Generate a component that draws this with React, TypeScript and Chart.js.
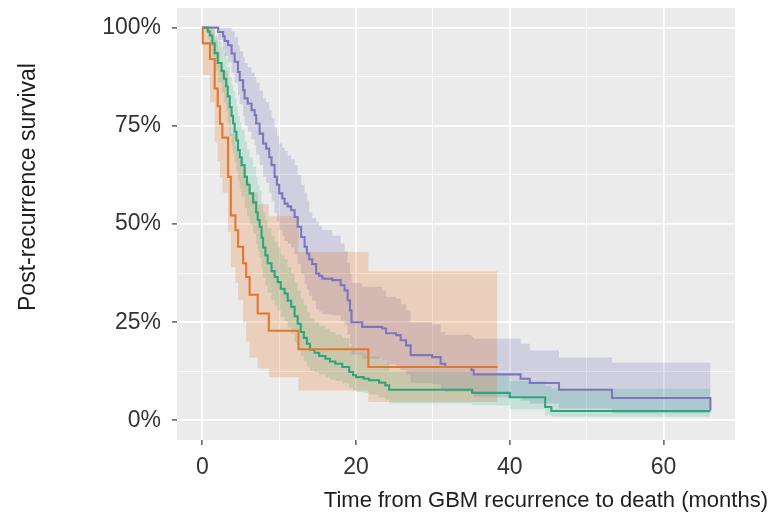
import React, { useEffect, useRef } from 'react';
import { Chart, registerables } from 'chart.js';

Chart.register(...registerables);

// ---- tick values ----
const xMajorTicks = [0, 20, 40, 60];
const xMinorTicks = [10, 30, 50];
const yMajorTicks = [0, 25, 50, 75, 100];
const yMinorTicks = [12.5, 37.5, 62.5, 87.5];

// ---- orange group ----
const orangeTime = [0, 0.05, 1.0, 1.6, 2.0, 2.3, 2.6, 3.35, 3.7, 4.3, 4.65, 5.3, 5.7, 6.15, 7.2, 8.65, 12.5, 21.6, 38.4];
const orangeSurv = [100, 96, 92, 84.5, 80, 75.5, 72, 62, 52.2, 48.4, 44.2, 40, 36.5, 32, 27.2, 22.8, 18.1, 13.6, 13.6];
const orangeUpper = [100, 100, 100, 97, 94, 91, 89, 81, 73, 70, 67, 64, 61, 58, 55, 52, 42.9, 38, 38];
const orangeLower = [100, 88, 81, 71, 66, 62, 58, 48, 39, 35, 30.6, 25, 20, 16, 13.2, 11, 7.6, 4.7, 4.7];

// ---- green group ----
const greenTime = [0, 0.7, 0.97, 1.3, 1.6, 2.0, 2.5, 2.8, 3.1, 3.3, 3.56, 3.8, 4.0, 4.2, 4.43, 4.64, 4.86, 5.1, 5.5, 5.8, 6.15, 6.6, 7.0, 7.2, 7.45, 7.7, 7.9, 8.2, 8.5, 9.0, 9.4, 9.8, 10.2, 10.7, 11.1, 11.55, 12.0, 12.4, 12.8, 13.2, 13.6, 14.0, 14.6, 15.2, 16.0, 16.6, 17.3, 18.2, 19.1, 19.6, 20.0, 21.0, 21.7, 23.0, 23.8, 24.3, 35.1, 40.0, 44.6, 45.4, 66.1];
const greenSurv = [100, 99, 98, 96, 93.5, 91, 89, 87, 85, 82.5, 79.8, 77.5, 75.6, 73.5, 71.3, 68.8, 67, 65, 62, 60, 57.8, 55.5, 53, 51, 49.3, 46.5, 44, 42, 40, 38, 36.5, 35.2, 33.5, 32.3, 30.5, 28.9, 26.5, 24.6, 22.5, 21, 19.5, 18, 17.2, 16.4, 15.7, 15, 14.4, 13.6, 12.3, 11.5, 11, 10.6, 10.2, 9.6, 8.9, 7.8, 7.0, 5.9, 3.4, 2.4, 2.4];
const greenUpper = [100, 100, 100, 99.5, 98, 96.5, 95, 93.5, 92, 90, 87.5, 85.5, 84, 82, 80, 77.5, 76, 74, 71, 69, 67, 64.5, 62, 60, 58.5, 55.5, 53, 51, 49, 47, 45.5, 44, 42, 41, 39, 37.5, 35, 33, 31, 29.5, 27.5, 26, 25, 24, 23.3, 22.5, 21.8, 21, 18.8, 17.8, 17.3, 16.8, 16.3, 15.5, 14.5, 12.5, 11.5, 10, 8.7, 8.1, 8.1];
const greenLower = [100, 97, 95.3, 92.5, 89, 86, 83.5, 81, 78.5, 75.5, 72.5, 70, 68, 65.8, 63.5, 61, 59, 57, 54, 52, 49.8, 47.5, 45, 43, 41.4, 38.7, 36.3, 34.4, 32.5, 30.6, 29.2, 28, 26.4, 25.3, 23.6, 22.1, 19.9, 18.2, 16.3, 15, 13.7, 12.6, 12.3, 11.6, 11, 10.5, 10, 9.4, 8.3, 7.6, 7.2, 6.9, 6.6, 5.9, 5.3, 4.3, 3.8, 2.8, 1.3, 0.9, 0.9];

// ---- purple group ----
const purpleTime = [0, 2.05, 2.7, 2.9, 3.35, 3.8, 4.2, 4.64, 4.86, 5.3, 5.5, 5.9, 6.4, 6.8, 7.0, 7.45, 7.9, 8.3, 8.7, 9.0, 9.4, 9.7, 10.0, 10.4, 10.7, 11.1, 11.55, 12.0, 12.4, 12.85, 13.3, 13.6, 13.9, 14.3, 14.8, 15.2, 15.6, 16.9, 18.0, 18.5, 18.9, 19.2, 19.4, 20.8, 23.4, 23.9, 25.2, 25.8, 26.5, 27.1, 29.9, 31.0, 31.6, 35.0, 35.3, 41.4, 42.6, 46.4, 53.3, 66.1];
const purpleSurv = [100, 98.9, 97.8, 96.6, 95.5, 93.4, 91.3, 88.7, 86.6, 84.1, 82, 80.7, 79, 77.7, 75.6, 73, 70.5, 69.2, 67, 65, 62, 60, 57.8, 56.5, 55.2, 54.5, 53.5, 51.8, 49.3, 46.7, 44.2, 42.5, 41, 39.8, 37.4, 36.8, 36.1, 35.7, 34.4, 33.1, 30.6, 28, 25, 23.8, 23.4, 22.2, 21.7, 20.4, 19.1, 16.6, 16.1, 14.4, 13.6, 12.8, 11.7, 10.6, 9.5, 7.8, 5.7, 2.6];
const purpleUpper = [100, 100, 100, 100, 100, 99, 97.5, 95.5, 94, 92.5, 91, 90, 88.5, 87.5, 86, 84, 82, 81, 79, 77, 74.5, 72.5, 70.5, 69.5, 68.5, 67.5, 66.5, 65, 62.5, 60, 58, 56, 53, 51.5, 50.5, 49.5, 48.5, 47, 45, 43, 40, 37.5, 35, 34, 33, 31.5, 31, 29.5, 28, 25, 24.5, 22.5, 21.8, 21.2, 20.8, 19.5, 17.8, 16, 14.7, 14.7];
const purpleLower = [100, 96.8, 94.5, 92.8, 91.2, 88.5, 86, 82.8, 80.5, 77.5, 75, 73.5, 71.5, 70, 67.7, 65, 62, 60.5, 58, 56, 52.8, 50.7, 48.5, 47, 45.7, 45, 44, 42.2, 39.8, 37.2, 34.8, 33.2, 31.7, 30.5, 28.3, 27.7, 27, 26.7, 25.4, 24.2, 21.8, 19.5, 16.8, 15.7, 15.4, 14.3, 13.9, 12.8, 11.6, 9.6, 9.2, 7.9, 7.3, 6.7, 5.9, 5.0, 4.3, 3.0, 1.8, 1.8];

const FONT = '"Liberation Sans", Arial, Helvetica, sans-serif';
const ORANGE = '#E2782F';
const GREEN = '#2FA57B';
const PURPLE = '#7C77BD';
const ORANGE_BAND = 'rgba(225,105,15,0.21)';
const GREEN_BAND = 'rgba(40,180,135,0.2)';
const PURPLE_BAND = 'rgba(120,115,190,0.24)';

const xAllTicks = [...xMajorTicks, ...xMinorTicks].sort((a, b) => a - b);
const yAllTicks = [...yMajorTicks, ...yMinorTicks].sort((a, b) => a - b);

function pts(t: number[], v: number[]) {
  return t.map((x, i) => ({ x, y: v[i] }));
}

export default function App() {
  const ref = useRef<HTMLCanvasElement>(null);

  useEffect(() => {
    document.body.style.margin = '0';
    const canvas = ref.current;
    if (!canvas) return;

    const line = (label: string, t: number[], v: number[], color: string) => ({
      label,
      data: pts(t, v),
      borderColor: color,
      backgroundColor: color,
      borderWidth: 2.1,
      stepped: true,
      pointRadius: 0,
      pointHoverRadius: 0,
      fill: false,
    });
    const bound = (label: string, t: number[], v: number[], fill: any, color: string) => ({
      label,
      data: pts(t, v),
      borderColor: 'rgba(0,0,0,0)',
      borderWidth: 0,
      backgroundColor: color,
      stepped: true,
      pointRadius: 0,
      pointHoverRadius: 0,
      fill,
    });

    const datasets: any[] = [
      line('orange', orangeTime, orangeSurv, ORANGE), // 0
      line('green', greenTime, greenSurv, GREEN), // 1
      line('purple', purpleTime, purpleSurv, PURPLE), // 2
      bound('orange upper', orangeTime, orangeUpper, false, ORANGE_BAND), // 3
      bound('orange lower', orangeTime, orangeLower, 3, ORANGE_BAND), // 4
      bound('green upper', greenTime, greenUpper, false, GREEN_BAND), // 5
      bound('green lower', greenTime, greenLower, 5, GREEN_BAND), // 6
      bound('purple upper', purpleTime, purpleUpper, false, PURPLE_BAND), // 7
      bound('purple lower', purpleTime, purpleLower, 7, PURPLE_BAND), // 8
    ];

    const panelBg = {
      id: 'panelBg',
      beforeDraw(chart: any) {
        const { ctx, chartArea: a } = chart;
        ctx.save();
        ctx.fillStyle = '#EBEBEB';
        ctx.fillRect(a.left, a.top, a.right - a.left, a.bottom - a.top);
        ctx.restore();
      },
    };

    const axisTitles = {
      id: 'axisTitles',
      afterDraw(chart: any) {
        const { ctx } = chart;
        ctx.save();
        ctx.fillStyle = '#1e1e1e';
        ctx.textBaseline = 'alphabetic';
        ctx.font = `22px ${FONT}`;
        ctx.textAlign = 'right';
        ctx.fillText('Time from GBM recurrence to death (months)', 768, 507);
        ctx.translate(35, 187);
        ctx.rotate(-Math.PI / 2);
        ctx.textAlign = 'center';
        ctx.font = `23px ${FONT}`;
        ctx.fillText('Post-recurrence survival', 0, 0);
        ctx.restore();
      },
    };

    const chart = new Chart(canvas, {
      type: 'line',
      data: { datasets },
      plugins: [panelBg, axisTitles],
      options: {
        animation: false,
        responsive: true,
        maintainAspectRatio: false,
        layout: { padding: { left: 0, top: 8, right: 35, bottom: 0 } },
        plugins: {
          legend: { display: false },
          tooltip: { enabled: false },
          filler: { drawTime: 'beforeDatasetsDraw' } as any,
        },
        scales: {
          x: {
            type: 'linear',
            min: -3.3,
            max: 69.3,
            afterBuildTicks: (s: any) => {
              s.ticks = xAllTicks.map((value) => ({ value }));
            },
            afterFit: (s: any) => {
              s.height = 84;
              s.paddingLeft = 0;
              s.paddingRight = 0;
            },
            ticks: {
              autoSkip: false,
              maxRotation: 0,
              padding: 9,
              color: '#333333',
              font: { family: FONT, size: 23 },
              callback: (v: any) => (xMajorTicks.includes(Number(v)) ? String(v) : ''),
            },
            grid: {
              color: '#ffffff',
              lineWidth: (c: any) => (xMajorTicks.includes(c.tick?.value) ? 1.8 : 0.9),
              drawTicks: true,
              tickLength: 5,
              tickWidth: 1.3,
              tickColor: (c: any) => (xMajorTicks.includes(c.tick?.value) ? '#444444' : 'rgba(0,0,0,0)'),
            },
            border: { display: false },
          },
          y: {
            type: 'linear',
            min: -5,
            max: 105,
            afterBuildTicks: (s: any) => {
              s.ticks = yAllTicks.map((value) => ({ value }));
            },
            afterFit: (s: any) => {
              s.width = 177;
              s.paddingTop = 0;
              s.paddingBottom = 0;
            },
            ticks: {
              autoSkip: false,
              padding: 11,
              color: '#333333',
              font: { family: FONT, size: 23 },
              callback: (v: any) => (yMajorTicks.includes(Number(v)) ? `${v}%` : ''),
            },
            grid: {
              color: '#ffffff',
              lineWidth: (c: any) => (yMajorTicks.includes(c.tick?.value) ? 1.8 : 0.9),
              drawTicks: true,
              tickLength: 5,
              tickWidth: 1.3,
              tickColor: (c: any) => (yMajorTicks.includes(c.tick?.value) ? '#444444' : 'rgba(0,0,0,0)'),
            },
            border: { display: false },
          },
        },
      },
    });

    return () => chart.destroy();
  }, []);

  return (
    <div style={{ width: 770, height: 524, position: 'relative' }}>
      <canvas ref={ref} />
    </div>
  );
}
